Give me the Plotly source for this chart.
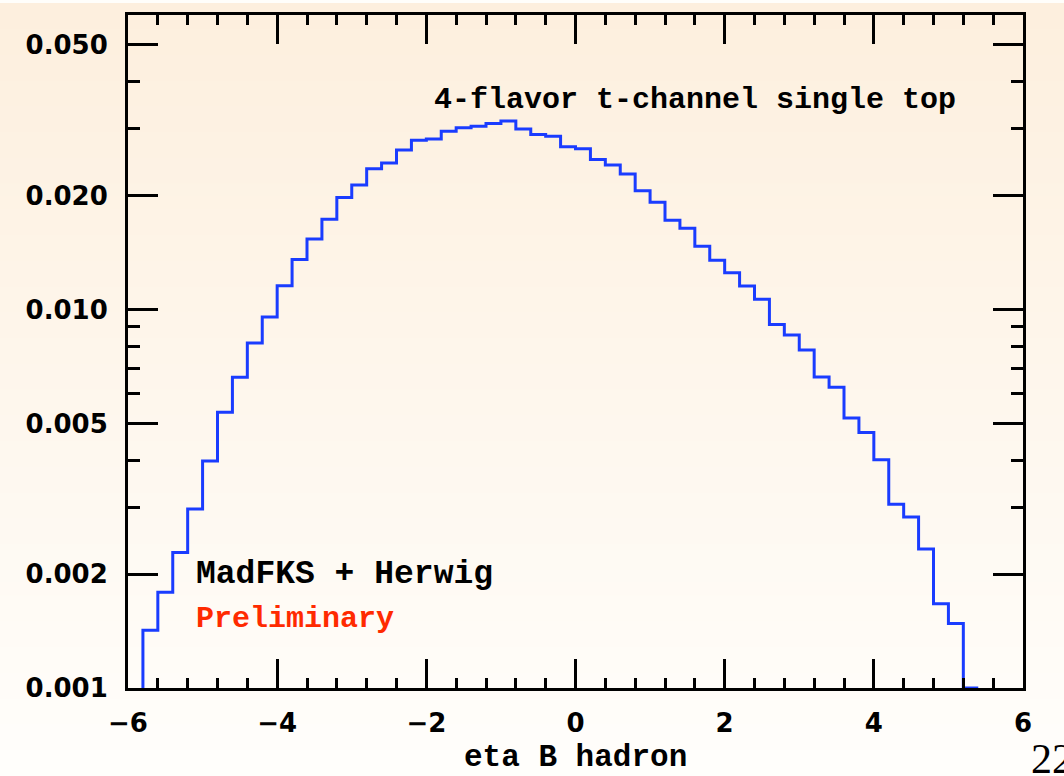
import plotly.graph_objects as go

# ---- data ----
bin_edges = [round(-5.8 + 0.2 * i, 1) for i in range(57)]   # -5.8 ... 5.4
bin_values = [
    0.00142, 0.00179, 0.00228, 0.00297, 0.00398, 0.00535, 0.00662, 0.00816,
    0.00955, 0.01155, 0.01355, 0.01535, 0.01733, 0.01977, 0.02133, 0.02355,
    0.02440, 0.02640, 0.02800, 0.02820, 0.02960, 0.03020, 0.03050, 0.03100,
    0.03150, 0.03000, 0.02900, 0.02870, 0.02690, 0.02660, 0.02490, 0.02410,
    0.02280, 0.02060, 0.01920, 0.01720, 0.01640, 0.01470, 0.01350, 0.01250,
    0.01154, 0.01064, 0.00913, 0.00857, 0.00782, 0.00663, 0.00623, 0.00517,
    0.00473, 0.00401, 0.00306, 0.00283, 0.00233, 0.00167, 0.00148, 0.00100,
]
y_floor = 0.001
y_top = 0.06
x_ticks = [-6, -4, -2, 0, 2, 4, 6]
y_ticks = [0.001, 0.002, 0.005, 0.01, 0.02, 0.05]
y_ticktext = ["0.001", "0.002", "0.005", "0.010", "0.020", "0.050"]
y_minor = [0.003, 0.004, 0.006, 0.007, 0.008, 0.009, 0.03, 0.04]

W, H = 1064, 776
ml, mr, mt, mb = 128, 41, 12, 88
pw, ph = W - ml - mr, H - mt - mb

xs = [bin_edges[0]] + bin_edges
ys = [y_floor] + bin_values + [bin_values[-1]]

fig = go.Figure()
fig.add_trace(go.Scatter(
    x=xs, y=ys, mode="lines", line=dict(shape="hv", color="#1a3cff", width=3),
    showlegend=False, hoverinfo="skip"))

# background gradient bands (peach at top to near-white at bottom)
nb = 60
top_c = (253, 239, 222)
bot_c = (255, 254, 251)
y0p = -mb / ph
y1p = 1 + mt / ph
shapes = []
for i in range(nb):
    t = i / (nb - 1)
    c = tuple(round(top_c[k] + (bot_c[k] - top_c[k]) * t) for k in range(3))
    ya = y1p - (y1p - y0p) * i / nb
    yb = y1p - (y1p - y0p) * (i + 1) / nb
    shapes.append(dict(type="rect", xref="paper", yref="paper",
                       x0=-ml / pw - 0.01, x1=1 + mr / pw + 0.01, y0=yb - 0.002, y1=ya,
                       fillcolor="rgb(%d,%d,%d)" % c, line=dict(width=0), layer="below"))

tickfont = dict(family="DejaVu Sans", size=26, color="black", weight="bold")
mono = "Liberation Mono"

fig.update_layout(
    width=W, height=H, autosize=False,
    margin=dict(l=ml, r=mr, t=mt, b=mb),
    paper_bgcolor="rgb(255,254,251)", plot_bgcolor="rgba(0,0,0,0)",
    shapes=shapes,
    xaxis=dict(range=[-6, 6], tickvals=x_ticks, ticks="inside", ticklen=29, tickwidth=3,
               tickcolor="black", showline=True, linecolor="black", linewidth=3,
               mirror="allticks", showgrid=False, zeroline=False, tickfont=tickfont,
               ticklabelstandoff=10,
               minor=dict(dtick=0.4, tick0=-6, ticks="inside", ticklen=10, tickwidth=3,
                          tickcolor="black", showgrid=False)),
    yaxis=dict(type="log", range=[-3, 1.7781512503836436 - 3],
               tickvals=y_ticks, ticktext=y_ticktext, ticks="inside", ticklen=30,
               tickwidth=3, tickcolor="black", showline=True, linecolor="black",
               linewidth=3, mirror="allticks", showgrid=False, zeroline=False,
               tickfont=tickfont, ticklabelstandoff=12,
               minor=dict(tickvals=y_minor, ticks="inside", ticklen=12, tickwidth=3,
                          tickcolor="black", showgrid=False)),
)

def px2paper(x, y):
    return (x - ml) / pw, (H - mb - y) / ph

ax, ay = px2paper(432, 97)
fig.add_annotation(text="4-flavor t-channel single top", xref="paper", yref="paper",
                   x=ax, y=ay, xanchor="left", yanchor="middle", showarrow=False,
                   font=dict(family=mono, size=30, color="black", weight="bold"))
ax, ay = px2paper(194, 574)
fig.add_annotation(text="MadFKS + Herwig", xref="paper", yref="paper",
                   x=ax, y=ay, xanchor="left", yanchor="middle", showarrow=False,
                   font=dict(family=mono, size=33, color="black", weight="bold"))
ax, ay = px2paper(194, 619)
fig.add_annotation(text="Preliminary", xref="paper", yref="paper",
                   x=ax, y=ay, xanchor="left", yanchor="middle", showarrow=False,
                   font=dict(family=mono, size=30, color="#ff2a00", weight="bold"))
ax, ay = px2paper(575, 758)
fig.add_annotation(text="eta B hadron", xref="paper", yref="paper",
                   x=ax, y=ay, xanchor="center", yanchor="middle", showarrow=False,
                   font=dict(family=mono, size=31, color="black", weight="bold"))
ax, ay = px2paper(1029, 759)
fig.add_annotation(text="22", xref="paper", yref="paper",
                   x=ax, y=ay, xanchor="left", yanchor="middle", showarrow=False,
                   font=dict(family="Liberation Serif", size=42, color="black"))

fig.write_html("out.html")
